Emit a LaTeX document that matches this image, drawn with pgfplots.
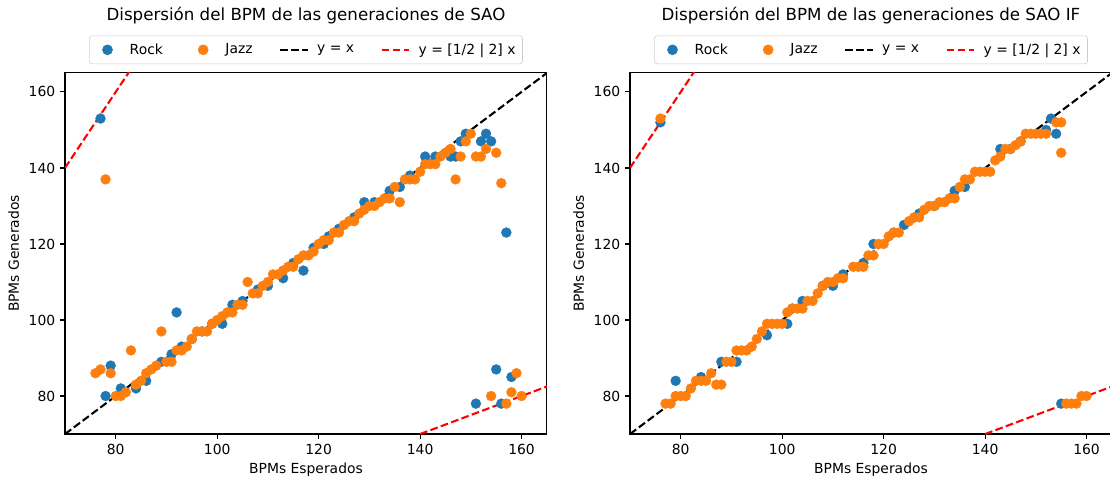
\documentclass[border=0pt]{standalone}
\usepackage{fontspec}
\setmainfont{DejaVu Sans}
\usepackage{pgfplots}
\pgfplotsset{compat=1.18}
\usepackage{pgfplotstable}
\definecolor{tabblue}{HTML}{1F77B4}
\definecolor{taborange}{HTML}{FF7F0E}
\definecolor{legframe}{rgb}{0.8,0.8,0.8}

\pgfplotstableread{
x y
77 153
78 80
79 88
81 82
84 82
86 84
89 89
91 91
92 102
93 93
95 95
97 97
99 99
101 99
103 104
105 105
108 108
110 109
113 111
115 115
117 113
119 119
121 120
122 122
124 124
127 127
129 131
131 131
134 134
136 135
138 138
141 143
143 143
146 143
147 143
148 147
149 149
151 78
152 147
153 149
154 147
155 87
156 78
157 123
158 85
}\saoRock

\pgfplotstableread{
x y
76 86
77 87
78 137
79 86
80 80
81 80
82 81
83 92
84 83
85 84
86 86
87 87
88 88
89 97
90 89
91 89
92 92
93 92
94 93
95 95
96 97
97 97
98 97
99 99
100 100
101 101
102 102
103 102
104 104
105 104
106 110
107 107
108 107
109 109
110 110
111 112
112 112
113 113
114 114
115 114
116 116
117 117
118 117
119 118
120 120
121 121
122 121
123 123
124 123
125 125
126 126
127 126
128 128
129 129
130 130
131 130
132 131
133 132
134 132
135 135
136 131
137 137
138 137
139 137
140 139
141 141
142 141
143 141
144 143
145 144
146 145
147 137
148 143
149 147
150 149
151 143
152 143
153 145
154 80
155 144
156 136
157 78
158 81
159 86
160 80
}\saoJazz

\pgfplotstableread{
x y
76 152
79 84
84 85
88 89
91 89
97 96
101 99
102 103
104 105
108 109
110 109
112 112
116 115
118 120
122 123
124 125
127 128
130 130
134 134
136 135
143 145
145 145
147 147
152 150
153 153
154 149
155 78
}\ifRock

\pgfplotstableread{
x y
76 153
77 78
78 78
79 80
80 80
81 80
82 82
83 84
84 84
85 84
86 86
87 83
88 83
89 89
90 89
91 92
92 92
93 92
94 93
95 95
96 97
97 99
98 99
99 99
100 99
101 102
102 103
103 103
104 103
105 105
106 105
107 107
108 109
109 110
110 110
111 111
112 111
114 114
115 114
116 114
117 117
118 117
119 120
120 120
121 122
122 123
123 123
125 126
126 127
127 127
128 129
129 130
130 130
131 131
132 131
133 132
134 132
135 135
136 137
137 137
138 139
139 139
140 139
141 139
142 142
143 143
144 145
145 145
146 146
147 147
148 149
149 149
150 149
151 149
152 149
154 152
155 152
155 144
156 78
157 78
158 78
159 80
160 80
}\ifJazz

\pgfplotsset{
  myax/.style={
    scale only axis,
    width=347pt, height=260pt,
    xmin=70, xmax=165, ymin=70, ymax=165,
    xtick={80,100,...,160}, ytick={80,100,...,160},
    tick align=outside, major tick length=3.5pt,
    xtick pos=bottom, ytick pos=left,
    every tick/.style={black, line width=0.8pt},
    axis line style={line width=0.8pt, black},
    /pgf/number format/assume math mode=true,
    tick label style={font=\fontsize{10}{12}\selectfont},
    label style={font=\fontsize{10}{12}\selectfont},
    xlabel={BPMs Esperados}, ylabel={BPMs Generados},
    xlabel style={yshift=1pt},
    every axis title shift=0pt,
    title style={at={(0.5,1.158)}, anchor=center, yshift=0pt, font=\fontsize{12}{14}\selectfont},
    legend style={at={(0.5,1.064)}, anchor=center, legend columns=4,
      draw=legframe, rounded corners=2pt, font=\fontsize{10}{12}\selectfont,
      inner xsep=3pt, inner ysep=3.5pt,
      /tikz/every odd column/.append style={column sep=4pt},
      /tikz/every even column/.append style={column sep=17pt}},
    legend cell align=left,
  }
}

\begin{document}
\begin{tikzpicture}
\begin{axis}[myax, at={(0pt,0pt)}, anchor=south west,
  title={Dispersión del BPM de las generaciones de SAO}]
\addplot[only marks, mark=*, mark size=3.6pt, color=tabblue, mark options={fill=tabblue, line width=0.2pt},
  legend image code/.code={\fill[tabblue] (10pt,0pt) circle[radius=3.6pt]; \path[draw=none] (0pt,0pt) rectangle (20pt,0.1pt);}]
  table[x=x,y=y] {\saoRock};
\addlegendentry{Rock}
\addplot[only marks, mark=*, mark size=3.6pt, color=taborange, mark options={fill=taborange, line width=0.2pt},
  legend image code/.code={\fill[taborange] (10pt,0pt) circle[radius=3.6pt]; \path[draw=none] (0pt,0pt) rectangle (20pt,0.1pt);}]
  table[x=x,y=y] {\saoJazz};
\addlegendentry{Jazz}
\addplot[black, line width=1.5pt, dash pattern=on 5.55pt off 2.4pt,
  legend image code/.code={\draw[black, line width=1.5pt, dash pattern=on 5.55pt off 2.4pt] (0pt,0pt) -- (20pt,0pt);}]
  coordinates {(70,70) (165,165)};
\addlegendentry{y = x}
\addplot[red, line width=1.5pt, dash pattern=on 5.55pt off 2.4pt,
  legend image code/.code={\draw[red, line width=1.5pt, dash pattern=on 5.55pt off 2.4pt] (0pt,0pt) -- (20pt,0pt);}]
  coordinates {(70,140) (85,170)};
\addlegendentry{y = [1/2 | 2] x}
\addplot[red, line width=1.5pt, dash pattern=on 5.55pt off 2.4pt, forget plot] coordinates {(140,70) (170,85)};
\end{axis}
\begin{axis}[myax, at={(406.8pt,0pt)}, anchor=south west,
  title={Dispersión del BPM de las generaciones de SAO IF}]
\addplot[only marks, mark=*, mark size=3.6pt, color=tabblue, mark options={fill=tabblue, line width=0.2pt},
  legend image code/.code={\fill[tabblue] (10pt,0pt) circle[radius=3.6pt]; \path[draw=none] (0pt,0pt) rectangle (20pt,0.1pt);}]
  table[x=x,y=y] {\ifRock};
\addlegendentry{Rock}
\addplot[only marks, mark=*, mark size=3.6pt, color=taborange, mark options={fill=taborange, line width=0.2pt},
  legend image code/.code={\fill[taborange] (10pt,0pt) circle[radius=3.6pt]; \path[draw=none] (0pt,0pt) rectangle (20pt,0.1pt);}]
  table[x=x,y=y] {\ifJazz};
\addlegendentry{Jazz}
\addplot[black, line width=1.5pt, dash pattern=on 5.55pt off 2.4pt,
  legend image code/.code={\draw[black, line width=1.5pt, dash pattern=on 5.55pt off 2.4pt] (0pt,0pt) -- (20pt,0pt);}]
  coordinates {(70,70) (165,165)};
\addlegendentry{y = x}
\addplot[red, line width=1.5pt, dash pattern=on 5.55pt off 2.4pt,
  legend image code/.code={\draw[red, line width=1.5pt, dash pattern=on 5.55pt off 2.4pt] (0pt,0pt) -- (20pt,0pt);}]
  coordinates {(70,140) (85,170)};
\addlegendentry{y = [1/2 | 2] x}
\addplot[red, line width=1.5pt, dash pattern=on 5.55pt off 2.4pt, forget plot] coordinates {(140,70) (170,85)};
\end{axis}
\pgfresetboundingbox
\path[use as bounding box] (-46.8pt,-33.8pt) rectangle (752.4pt,312.5pt);
\end{tikzpicture}
\end{document}
